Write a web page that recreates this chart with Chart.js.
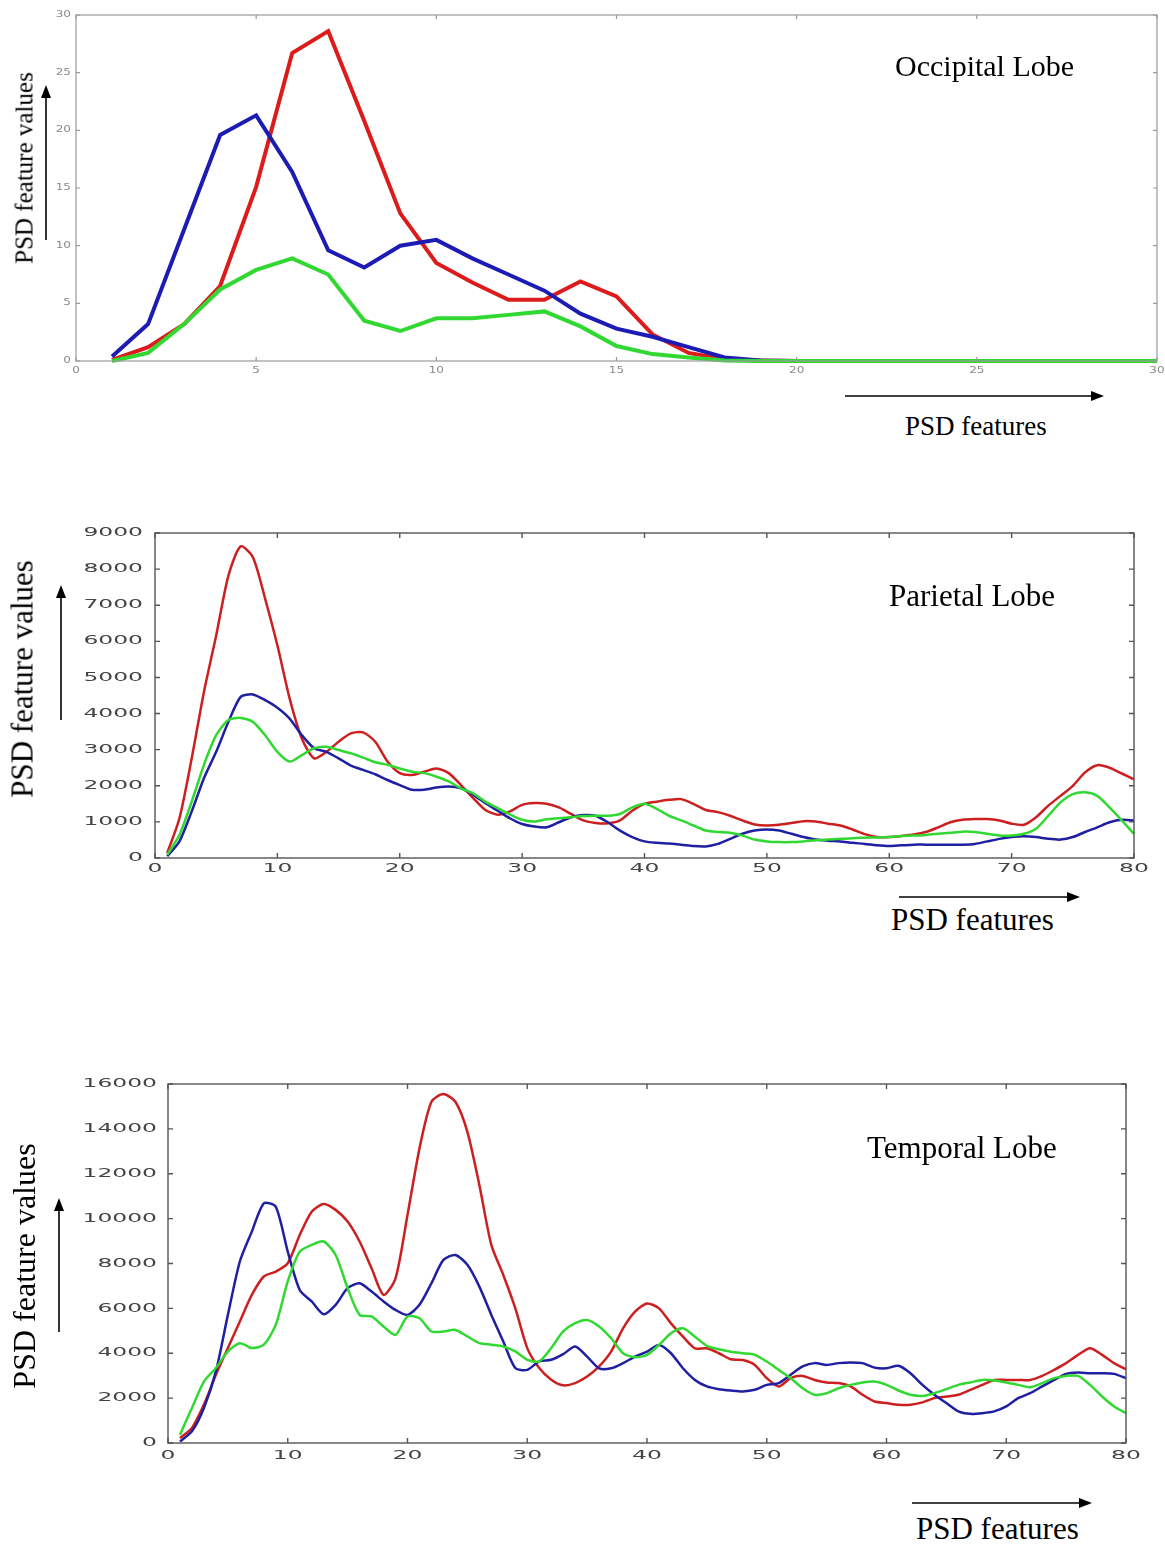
<!DOCTYPE html>
<html>
<head>
<meta charset="utf-8">
<script src="https://cdn.jsdelivr.net/npm/chart.js@4.4.1/dist/chart.umd.min.js"></script>
<style>
  html, body { margin: 0; padding: 0; background: #fff; }
  #page { position: relative; width: 1165px; height: 1544px; overflow: hidden; }
  canvas { position: absolute; left: 0; }
  .lbl { position: absolute; font-family: "Liberation Serif", "Times New Roman", serif; color: #000; line-height: 1; white-space: nowrap; }
  .ylbl { transform: translate(-50%, -50%) rotate(-90deg); }
  svg { position: absolute; left: 0; top: 0; }
</style>
</head>
<body>
<div id="page">
  <canvas id="occipital" width="1165" height="400" style="top:0px"></canvas>
  <canvas id="parietal" width="1165" height="400" style="top:500px"></canvas>
  <canvas id="temporal" width="1165" height="440" style="top:1050px"></canvas>

  <div class="lbl" style="left:895px; top:51px; font-size:30px">Occipital Lobe</div>
  <div class="lbl" style="left:905px; top:413px; font-size:27px">PSD features</div>
  <div class="lbl ylbl" style="left:24px; top:168px; font-size:25px">PSD feature values</div>

  <div class="lbl" style="left:889px; top:580px; font-size:31px">Parietal Lobe</div>
  <div class="lbl" style="left:891px; top:904px; font-size:31px">PSD features</div>
  <div class="lbl ylbl" style="left:22px; top:679px; font-size:31px">PSD feature values</div>

  <div class="lbl" style="left:867px; top:1132px; font-size:31px">Temporal Lobe</div>
  <div class="lbl" style="left:916px; top:1513px; font-size:31px">PSD features</div>
  <div class="lbl ylbl" style="left:24px; top:1266px; font-size:32px">PSD feature values</div>

  <svg width="1165" height="1544">
    <g stroke="#000" stroke-width="1.6">
      <line x1="46" y1="240" x2="46" y2="96"/>
      <line x1="845" y1="396" x2="1092" y2="396"/>
      <line x1="61" y1="720" x2="61" y2="596"/>
      <line x1="899" y1="897" x2="1068" y2="897"/>
      <line x1="59" y1="1332" x2="59" y2="1210"/>
      <line x1="912" y1="1503" x2="1080" y2="1503"/>
    </g>
    <g fill="#000">
      <polygon points="46,85 41,98 51,98"/>
      <polygon points="1104,396 1091,391 1091,401"/>
      <polygon points="61,585 56,598 66,598"/>
      <polygon points="1080,897 1067,892 1067,902"/>
      <polygon points="59,1198 54,1211 64,1211"/>
      <polygon points="1092,1503 1079,1498 1079,1508"/>
    </g>
  </svg>
</div>

<script>
// PSD feature values per lobe, one entry per feature index starting at 1
const occipitalRed   = [0.1, 1.2, 3.2, 6.5, 15.1, 26.7, 28.6, 20.8, 12.8, 8.5, 6.8, 5.3, 5.3, 6.9, 5.6, 2.3, 0.7, 0.15, 0.05, 0, 0, 0, 0, 0, 0, 0, 0, 0, 0, 0];
const occipitalBlue  = [0.4, 3.2, 11.4, 19.6, 21.3, 16.4, 9.6, 8.1, 10.0, 10.5, 8.9, 7.5, 6.1, 4.1, 2.8, 2.1, 1.2, 0.3, 0.05, 0, 0, 0, 0, 0, 0, 0, 0, 0, 0, 0];
const occipitalGreen = [0, 0.7, 3.2, 6.2, 7.9, 8.9, 7.5, 3.5, 2.6, 3.7, 3.7, 4.0, 4.3, 3.0, 1.3, 0.6, 0.3, 0.05, 0, 0, 0, 0, 0, 0, 0, 0, 0, 0, 0, 0];

const parietalRed = [
  140, 1100, 2760, 4600, 6160, 7820, 8630, 8330, 7180, 5890,
  4420, 3310, 2760, 2940, 3220, 3450, 3480, 3220, 2670, 2350,
  2300, 2390, 2480, 2350, 2020, 1660, 1330, 1200, 1290, 1470,
  1520, 1500, 1400, 1220, 1040, 970, 960, 1040, 1310, 1500,
  1560, 1610, 1630, 1500, 1330, 1270, 1170, 1040, 930, 900,
  920, 970, 1020, 1010, 950, 900, 790, 660, 580, 580,
  610, 650, 720, 850, 990, 1060, 1080, 1080, 1040, 950,
  920, 1130, 1450, 1720, 2000, 2370, 2570, 2500, 2340, 2180
];
const parietalBlue = [
  50, 460, 1290, 2210, 2940, 3770, 4460, 4530, 4370, 4160,
  3860, 3400, 3040, 2940, 2760, 2560, 2440, 2320, 2160, 2020,
  1890, 1890, 1950, 1980, 1930, 1750, 1520, 1310, 1100, 940,
  870, 850, 990, 1130, 1190, 1170, 990, 760, 580, 460,
  420, 400, 370, 330, 320, 390, 530, 670, 760, 790,
  760, 670, 580, 510, 480, 460, 420, 390, 350, 330,
  350, 370, 370, 370, 370, 370, 390, 460, 530, 580,
  600, 580, 530, 510, 580, 720, 850, 990, 1060, 1040
];
const parietalGreen = [
  90, 640, 1560, 2580, 3400, 3820, 3880, 3770, 3400, 2940,
  2670, 2850, 3040, 3080, 2990, 2900, 2780, 2650, 2580, 2480,
  2390, 2350, 2250, 2120, 1930, 1790, 1560, 1380, 1210, 1060,
  1010, 1070, 1100, 1130, 1160, 1170, 1170, 1220, 1400, 1500,
  1360, 1170, 1040, 900, 760, 720, 700, 620, 510, 460,
  440, 440, 460, 490, 510, 530, 550, 560, 570, 580,
  610, 620, 640, 670, 700, 730, 720, 670, 620, 620,
  670, 810, 1170, 1540, 1770, 1820, 1720, 1400, 1040, 670
];

const temporalRed = [
  220, 670, 1710, 3040, 4230, 5420, 6600, 7420, 7640, 8010,
  9270, 10310, 10650, 10390, 9870, 8980, 7790, 6600, 7340, 10160,
  13130, 15210, 15550, 15210, 13870, 11500, 8830, 7490, 6010, 4230,
  3340, 2820, 2570, 2670, 2960, 3410, 4070, 5110, 5850, 6220,
  6000, 5330, 4740, 4220, 4220, 4000, 3730, 3700, 3480, 2890,
  2520, 2890, 2990, 2810, 2700, 2670, 2520, 2150, 1850, 1780,
  1700, 1700, 1810, 2000, 2070, 2150, 2370, 2590, 2810, 2810,
  2810, 2810, 2990, 3260, 3560, 3930, 4220, 3930, 3560, 3290
];
const temporalBlue = [
  70, 520, 1560, 3190, 5710, 8090, 9420, 10680, 10530, 8530,
  6820, 6310, 5740, 6160, 6900, 7120, 6750, 6310, 5930, 5710,
  6160, 7120, 8160, 8380, 7940, 6970, 5710, 4520, 3340, 3260,
  3640, 3710, 3960, 4300, 3850, 3330, 3330, 3560, 3850, 4070,
  4370, 4000, 3330, 2810, 2520, 2400, 2340, 2300, 2370, 2590,
  2670, 3040, 3410, 3560, 3480, 3560, 3590, 3560, 3360, 3330,
  3440, 3110, 2590, 2150, 1780, 1410, 1300, 1330, 1410, 1630,
  2000, 2220, 2520, 2810, 3080, 3140, 3110, 3110, 3080, 2890
];
const temporalGreen = [
  370, 1560, 2740, 3340, 4080, 4450, 4230, 4380, 5270, 7200,
  8530, 8830, 8980, 8380, 6900, 5710, 5640, 5190, 4820, 5640,
  5560, 4970, 4970, 5040, 4750, 4450, 4380, 4300, 4080, 3710,
  3640, 4230, 4970, 5340, 5480, 5190, 4670, 4000, 3820, 3930,
  4370, 4890, 5110, 4740, 4330, 4180, 4070, 4000, 3930, 3630,
  3260, 2890, 2440, 2150, 2220, 2440, 2590, 2700, 2740, 2590,
  2340, 2150, 2100, 2220, 2400, 2590, 2700, 2810, 2790, 2700,
  2590, 2490, 2670, 2890, 2990, 2990, 2590, 2070, 1630, 1330
];

const RED = '#dc1c1c';
const BLUE = '#1c1cb4';
const GREEN = '#32d832';
const DARK_RED = '#cc1f1f';
const DARK_BLUE = '#1f1fa2';

// box around the plot area, inward tick marks on all four sides,
// and wide, flat tick numbers like the old plotting tool's axis font
const matlabBox = {
  id: 'matlabBox',
  afterDatasetsDraw(chart, args, opts) {
    const { ctx, chartArea: a, scales: { x, y } } = chart;
    ctx.save();
    ctx.strokeStyle = opts.color;
    ctx.lineWidth = opts.width;
    ctx.strokeRect(a.left, a.top, a.right - a.left, a.bottom - a.top);
    ctx.beginPath();
    x.ticks.forEach(t => {
      const p = x.getPixelForValue(t.value);
      ctx.moveTo(p, a.bottom); ctx.lineTo(p, a.bottom - opts.len);
      ctx.moveTo(p, a.top); ctx.lineTo(p, a.top + opts.len);
    });
    y.ticks.forEach(t => {
      const p = y.getPixelForValue(t.value);
      ctx.moveTo(a.left, p); ctx.lineTo(a.left + opts.len, p);
      ctx.moveTo(a.right, p); ctx.lineTo(a.right - opts.len, p);
    });
    ctx.stroke();

    const lab = opts.labels;
    ctx.font = `${lab.size}px "DejaVu Sans"`;
    ctx.fillStyle = lab.color;
    ctx.textBaseline = 'middle';
    ctx.textAlign = 'right';
    y.ticks.forEach(t => {
      ctx.save();
      ctx.translate(a.left - lab.yGap, y.getPixelForValue(t.value));
      ctx.scale(lab.stretch, 1);
      ctx.fillText(String(t.value), 0, 0);
      ctx.restore();
    });
    ctx.textAlign = 'center';
    x.ticks.forEach(t => {
      ctx.save();
      ctx.translate(x.getPixelForValue(t.value), a.bottom + lab.xGap);
      ctx.scale(lab.stretch, 1);
      ctx.fillText(String(t.value), 0, 0);
      ctx.restore();
    });
    ctx.restore();
  }
};

function series(values, color, width, tension) {
  return {
    data: values.map((v, i) => ({ x: i + 1, y: v })),
    borderColor: color,
    borderWidth: width,
    pointRadius: 0,
    tension: tension,
    clip: 8
  };
}

function makeChart(id, sets, c) {
  return new Chart(document.getElementById(id), {
    type: 'line',
    data: { datasets: sets },
    plugins: [matlabBox],
    options: {
      responsive: false,
      animation: false,
      devicePixelRatio: 1,
      layout: { padding: { top: c.top, right: c.right, left: 0, bottom: 0 } },
      plugins: {
        legend: { display: false },
        tooltip: { enabled: false },
        matlabBox: { color: c.boxColor, width: c.boxWidth, len: c.tickLen, labels: c.labels }
      },
      scales: {
        x: {
          type: 'linear', min: 0, max: c.xMax,
          grid: { display: false },
          border: { display: false },
          ticks: { stepSize: c.xStep, display: false },
          afterFit: s => { s.height = c.xHeight; }
        },
        y: {
          min: 0, max: c.yMax,
          grid: { display: false },
          border: { display: false },
          ticks: { stepSize: c.yStep, display: false },
          afterFit: s => { s.width = c.left; }
        }
      }
    }
  });
}

makeChart('occipital', [
  series(occipitalGreen, GREEN, 4, 0),
  series(occipitalBlue, BLUE, 4, 0),
  series(occipitalRed, RED, 4, 0)
], {
  top: 15, right: 8, left: 76, xHeight: 39,
  xMax: 30, xStep: 5, yMax: 30, yStep: 5,
  boxColor: '#999', boxWidth: 1.2, tickLen: 4,
  labels: { size: 8, stretch: 1.5, color: '#8a8a8a', yGap: 5, xGap: 10 }
});

makeChart('parietal', [
  series(parietalGreen, GREEN, 2.5, 0.25),
  series(parietalBlue, DARK_BLUE, 2.5, 0.25),
  series(parietalRed, DARK_RED, 2.5, 0.25)
], {
  top: 33, right: 31, left: 155, xHeight: 42,
  xMax: 80, xStep: 10, yMax: 9000, yStep: 1000,
  boxColor: '#555', boxWidth: 1.4, tickLen: 5,
  labels: { size: 12, stretch: 1.95, color: '#444', yGap: 12, xGap: 11 }
});

makeChart('temporal', [
  series(temporalGreen, GREEN, 2.5, 0.25),
  series(temporalBlue, DARK_BLUE, 2.5, 0.25),
  series(temporalRed, DARK_RED, 2.5, 0.25)
], {
  top: 34, right: 39, left: 168, xHeight: 47,
  xMax: 80, xStep: 10, yMax: 16000, yStep: 2000,
  boxColor: '#555', boxWidth: 1.4, tickLen: 5,
  labels: { size: 12, stretch: 1.95, color: '#444', yGap: 11, xGap: 13 }
});
</script>
</body>
</html>
